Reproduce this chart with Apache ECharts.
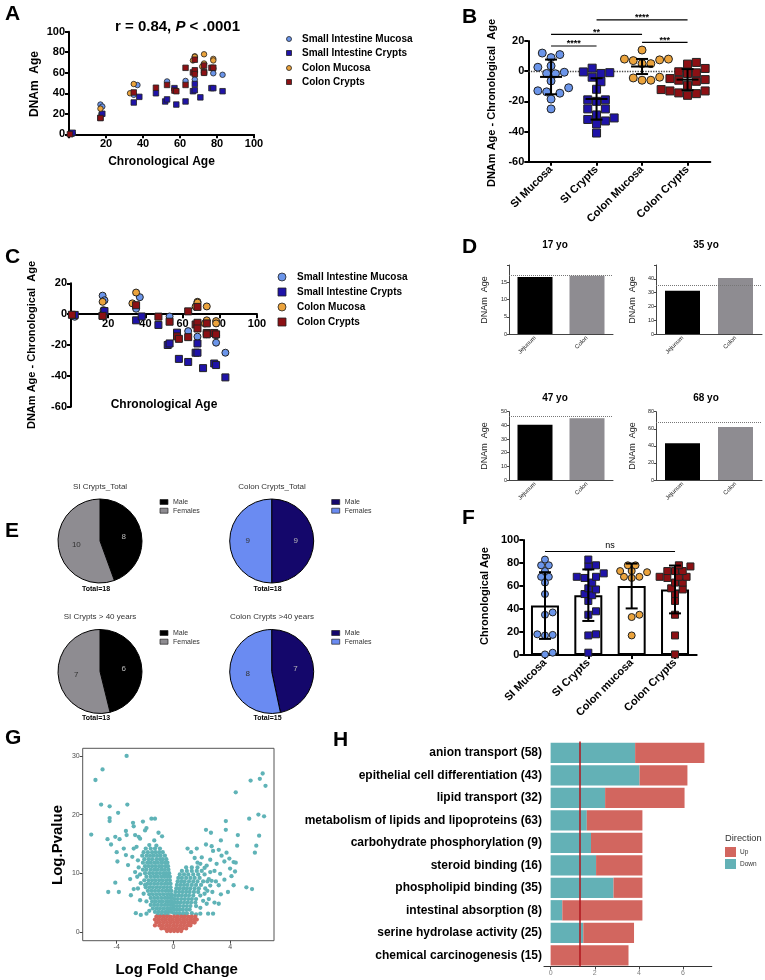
<!DOCTYPE html>
<html><head><meta charset="utf-8">
<script src="https://cdn.jsdelivr.net/npm/echarts@6/dist/echarts.min.js"></script>
<style>html,body{margin:0;padding:0;background:#fff}#c{width:765px;height:980px}</style>
</head><body><div id="c"></div>
<script>
// ---------------- DATA ----------------
const groupNames = ['Small Intestine Mucosa','Small Intestine Crypts','Colon Mucosa','Colon Crypts'];
const siMucosaAge   = [0.5, 2, 17, 17.5, 18, 35, 37, 53, 63, 68, 68, 73, 78, 78, 83];
const siMucosaDelta = [-0.7, -1.7, 12, 2.6, 9, 3.5, 11, -1.5, -11, -6.5, -14.6, -13, -13.7, -18.5, -25];
const siCryptsAge   = [2, 17, 18, 35, 38, 47, 52, 53, 57, 58, 63, 67, 68, 68, 71, 77, 78, 83];
const siCryptsDelta = [-0.5, -1, 2, -4, -1.5, -7, -20, -19, -12, -29, -31, -25, -25, -19, -35, -32, -33, -41];
const colonMucosaAge   = [17, 33, 35, 67, 68, 68, 73, 72, 73, 78, 78];
const colonMucosaDelta = [8, 7, 14, 5, 8, 7.5, 5, -6, -4, -4.5, -6];
const colonCryptsAge   = [0.5, 17, 35, 47, 53, 57, 58, 63, 63, 67, 68, 68, 68, 73, 73, 73, 77, 78];
const colonCryptsDelta = [-0.4, -1.1, 5.8, -1.6, -4.9, -14.4, -16, 1.8, -14.9, -6.7, -5.6, -9.3, 4.7, -6, -12.2, -13.1, -12.2, -13.1];

const bCategories = ['SI Mucosa','SI Crypts','Colon Mucosa','Colon Crypts'];
const bMeans = [-3.8, -18.4, 3.1, -5.6];
const bSd = [11.5, 13.7, 5.0, 7.0];
const bSigPairs = [[0,1,16.7],[0,2,24.4],[1,3,34],[2,3,19.1]];
const bSigLabels = ['****','**','****','***'];

const dTitles = ['17 yo','35 yo','47 yo','68 yo'];
const dCategories = ['Jejunum','Colon'];
const dJejunum = [16.5, 31.3, 40.5, 43];
const dColon = [16.9, 40.5, 45.2, 62];
const dAges = [17, 35, 47, 68];
const dMax = [20, 50, 50, 80];
const dInterval = [5, 10, 10, 20];

const eTitles = ['SI Crypts_Total','Colon Crypts_Total','SI Crypts > 40 years','Colon Crypts >40 years'];
const eLabels = ['Male','Females'];
const eMale = [8, 9, 6, 7];
const eFemale = [10, 9, 7, 8];

const fCategories = ['SI Mucosa','SI Crypts','Colon mucosa','Colon Crypts'];
const fMeans = [43, 52, 60, 57];
const fSd = [29, 22.4, 19.5, 20.8];
const fSigPair = [0, 3, 90];
const fSigLabel = 'ns';

const volcanoSigRows = [
 [14.2,[-1.95,-1.6,-1.3,-0.95]],
 [13.6,[-2.1,-1.8,-1.5,-1.25,-1.0,-0.75]],
 [13.0,[-2.2,-1.9,-1.65,-1.4,-1.15,-0.9,-0.6]],
 [12.4,[-2.05,-1.75,-1.5,-1.2,-0.95,-0.75,-0.5]],
 [11.8,[-2.15,-1.85,-1.6,-1.35,-1.1,-0.85,-0.6,-0.42]],
 [11.2,[-2.0,-1.75,-1.5,-1.25,-1.0,-0.8,-0.55,-0.38]],
 [10.6,[-2.15,-1.9,-1.6,-1.35,-1.1,-0.85,-0.6,-0.35]],
 [10.0,[-2.0,-1.7,-1.45,-1.2,-0.95,-0.7,-0.5,-0.3]],
 [9.4,[-1.9,-1.6,-1.35,-1.1,-0.85,-0.62,-0.4,-0.25]],
 [8.8,[-2.05,-1.75,-1.5,-1.25,-1.0,-0.75,-0.5,-0.25]],
 [8.2,[-1.85,-1.6,-1.35,-1.1,-0.85,-0.6,-0.4,-0.2]],
 [7.6,[-1.95,-1.7,-1.45,-1.2,-0.95,-0.7,-0.45,-0.2]],
 [7.0,[-1.8,-1.55,-1.3,-1.05,-0.8,-0.55,-0.35,-0.15]],
 [6.4,[-1.7,-1.45,-1.2,-0.95,-0.7,-0.45,-0.25,-0.12]],
 [5.8,[-1.6,-1.35,-1.1,-0.85,-0.6,-0.4,-0.2,-0.1]],
 [5.2,[-1.5,-1.25,-1.0,-0.75,-0.5,-0.3,-0.1]],
 [4.6,[-1.6,-1.35,-1.1,-0.85,-0.6,-0.4,-0.2,-0.07]],
 [4.0,[-1.45,-1.2,-0.95,-0.7,-0.45,-0.25,-0.05]],
 [3.4,[-1.3,-1.05,-0.8,-0.55,-0.35,-0.15]],
 [2.9,[-1.1,-0.85,-0.6,-0.4]],
 [11.0,[0.9,1.3,1.7]],
 [10.4,[0.6,0.95,1.3,1.65,2.0]],
 [9.8,[0.45,0.75,1.05,1.4,1.75,2.2]],
 [9.2,[0.35,0.6,0.9,1.2,1.5,1.85]],
 [8.6,[0.3,0.55,0.8,1.1,1.4,1.7,2.1,2.4]],
 [8.0,[0.25,0.5,0.75,1.0,1.3,1.6,1.95]],
 [7.4,[0.2,0.45,0.7,0.95,1.2,1.5,1.8,2.25]],
 [6.8,[0.15,0.4,0.65,0.9,1.15,1.45,1.75]],
 [6.2,[0.12,0.35,0.6,0.85,1.1,1.4,1.9]],
 [5.6,[0.1,0.3,0.55,0.8,1.05,1.3,1.6]],
 [5.0,[0.08,0.28,0.5,0.75,1.0,1.25,1.55]],
 [4.4,[0.06,0.25,0.45,0.7,0.95,1.2,1.6]],
 [3.8,[0.05,0.22,0.42,0.65,0.9,1.15]],
 [3.2,[0.05,0.25,0.45,0.7,0.95,1.3]],
 [2.9,[0.3,0.6,0.9]]
];
const volcanoSigOutliers = [
 [-3.3,30.0],[-5.0,27.7],[-5.5,25.9],[5.45,25.8],[6.1,26.1],[6.3,27.0],[6.5,24.9],
 [-5.1,21.7],[-4.5,21.4],[-3.25,21.7],[-3.9,20.3],[-4.5,19.4],[-4.5,18.9],[-5.8,16.6],[-4.65,15.8],[-4.4,14.9],
 [-4.1,16.2],[-3.8,15.8],[-4.0,13.6],[-3.95,12.0],[-3.35,17.2],[-3.3,16.5],[-3.5,14.2],[-3.35,13.1],[-3.2,11.4],
 [-4.1,8.4],[-4.6,6.8],[-3.85,6.8],[-2.85,18.6],[-2.8,18.0],[-2.15,18.8],[-2.7,16.5],[-2.45,16.2],[-2.35,15.9],
 [-1.9,17.7],[-1.55,19.3],[-1.3,19.3],[-2.0,17.3],[-1.35,15.6],[-1.05,16.9],[-0.8,16.3],[-2.8,14.2],[-2.6,14.5],
 [-2.7,10.2],[-2.8,7.3],[-2.65,3.2],[-3.0,6.25],[-2.5,7.4],[-2.35,5.4],[-2.0,8.0],[-2.5,12.2],[-2.9,12.8],
 [-3.05,9.0],[-2.55,9.4],[-2.3,2.9],[-1.9,3.1],
 [-2.45,11.0],[-2.35,9.8],[-2.3,8.3],[-2.1,6.5],[-1.9,5.2],[-1.7,3.6],[-1.7,14.8],[-1.2,14.7],
 [4.4,23.8],[3.7,18.9],[3.7,17.4],[4.55,16.5],[4.5,14.7],[5.35,19.3],[6.0,20.0],[6.4,19.7],[6.05,16.4],
 [5.85,14.7],[5.75,13.5],[3.35,15.6],[2.7,14.6],[2.3,17.4],[2.65,16.9],[2.3,14.9],[1.65,14.2],[1.0,14.2],
 [1.25,13.6],[2.8,13.8],[3.2,14.0],[3.4,13.0],[3.75,13.5],[3.95,12.5],[4.25,11.9],[4.4,11.8],[4.35,10.3],
 [4.25,7.95],[3.85,6.8],[5.15,7.6],[5.55,7.3],[3.3,9.9],[3.2,7.95],[3.35,6.4],[3.2,4.8],[2.8,3.1],[2.45,3.1],
 [1.9,3.1],[2.9,5.0],[2.35,4.8],[2.75,6.8],[3.05,11.6],[2.6,12.3],[2.0,12.7],[1.7,11.8],[2.9,10.4],[2.5,9.0],
 [3.6,12.0],[4.0,10.8],[2.2,10.9],[3.0,8.6],[2.6,7.9],[2.2,6.5],[2.5,5.6],[3.6,8.9],[4.1,9.5],[1.5,12.6],
 [2.6,10.2],[2.7,8.7],[2.4,7.0],[2.1,5.3],[1.9,4.1],[1.6,3.0],[2.35,11.3],[1.9,11.6]
];
const volcanoNsRows = [
 [2.6,[-1.2,-0.95,-0.7,-0.45,-0.2,0.05,0.3,0.55,0.8,1.05,1.3,1.55]],
 [2.1,[-1.3,-1.05,-0.8,-0.55,-0.3,-0.05,0.2,0.45,0.7,0.95,1.2,1.45,1.65]],
 [1.6,[-1.2,-0.95,-0.7,-0.45,-0.2,0.05,0.3,0.55,0.8,1.05,1.3,1.5]],
 [1.1,[-1.3,-1.0,-0.75,-0.5,-0.25,0.0,0.25,0.5,0.75,1.0,1.2]],
 [0.6,[-0.85,-0.6,-0.35,-0.1,0.15,0.4,0.65,0.9]],
 [0.15,[-0.45,-0.2,0.05,0.3,0.55]]
];

const hTerms = ['anion transport (58)','epithelial cell differentiation (43)','lipid transport (32)',
 'metabolism of lipids and lipoproteins (63)','carbohydrate phosphorylation (9)','steroid binding (16)',
 'phospholipid binding (35)','intestinal absorption (8)','serine hydrolase activity (25)','chemical carcinogenesis (15)'];
const hDown = [3.83, 4.03, 2.47, 1.64, 1.83, 2.06, 2.85, 0.53, 1.48, 0];
const hUp   = [3.14, 2.17, 3.60, 2.52, 2.33, 2.10, 1.31, 3.63, 2.30, 3.53];
const hThreshold = 1.3;
const hLegend = ['Up','Down'];

// ---------------- STYLE ----------------
const FF = "'Liberation Sans', Arial, Helvetica, sans-serif";
const groupColors = ['#6b95ea','#1f13a8','#eba33c','#8c1014'];
const groupSymbols = ['circle','rect','circle','rect'];
const ages = [siMucosaAge, siCryptsAge, colonMucosaAge, colonCryptsAge];
const deltas = [siMucosaDelta, siCryptsDelta, colonMucosaDelta, colonCryptsDelta];

const chart = echarts.init(document.getElementById('c'), null, {width:765, height:980, renderer:'canvas'});

const grids = [
 {left:69, top:31.7, width:185, height:102.6},
 {left:528.3, top:41, width:182, height:120.7},
 {left:71, top:283.3, width:186, height:123.4},
 {left:509, top:265, width:104, height:69},
 {left:656, top:265, width:106, height:69},
 {left:509, top:411.7, width:104, height:68.3},
 {left:656, top:411.7, width:106, height:68.3},
 {left:523.3, top:540, width:173.4, height:115},
 {left:82.7, top:748.3, width:191.3, height:192.4, show:true, borderColor:'#555', borderWidth:1},
 {left:544, top:741.5, width:167.7, height:225}
];

function prismVal(gridIndex, min, max, interval, hideZero, offset) {
  return {type:'value', gridIndex, min, max, interval, offset: offset || 0,
    axisLine:{show:true, onZero:false, lineStyle:{color:'#000', width:2}},
    axisTick:{show:true, length:4, lineStyle:{color:'#000', width:2}},
    axisLabel:{color:'#000', fontFamily:FF, fontWeight:'bold', fontSize:11, margin:4,
      formatter: v => (hideZero && v === 0) ? '' : String(v)},
    splitLine:{show:false}};
}
function prismCat(gridIndex, data) {
  return {type:'category', gridIndex, data,
    axisLine:{show:true, onZero:false, lineStyle:{color:'#000', width:2}},
    axisTick:{show:true, alignWithLabel:true, length:4, lineStyle:{color:'#000', width:2}},
    axisLabel:{rotate:45, interval:0, color:'#000', fontFamily:FF, fontWeight:'bold', fontSize:11, margin:6},
    splitLine:{show:false}};
}
function hiddenVal(gridIndex) { return {type:'value', gridIndex, min:0, max:4, show:false}; }
function dCat(gridIndex) {
  return {type:'category', gridIndex, data:dCategories,
    axisLine:{onZero:false, lineStyle:{color:'#444', width:1}},
    axisTick:{alignWithLabel:true, length:2, lineStyle:{color:'#444'}},
    axisLabel:{rotate:45, interval:0, fontSize:6, color:'#222', fontFamily:FF, margin:3}};
}
function dVal(gridIndex, i) {
  return {type:'value', gridIndex, min:0, max:dMax[i], interval:dInterval[i],
    axisLine:{show:true, onZero:false, lineStyle:{color:'#444', width:1}},
    axisTick:{show:true, length:2, lineStyle:{color:'#444'}},
    axisLabel:{fontSize:5.5, color:'#222', fontFamily:FF, margin:2,
      formatter: v => (i < 2 && v === dMax[i]) ? '' : String(v)},
    splitLine:{show:false}};
}

const xAxes = [
  prismVal(0, 0, 100, 20, true),          //0 A
  prismCat(1, bCategories),               //1 B cat
  hiddenVal(1),                           //2 B val
  prismVal(2, 0, 100, 20, true, -123.4*60/80), //3 C (axis drawn at y = 0)
  dCat(3), dCat(4), dCat(5), dCat(6),     //4-7 D
  prismCat(7, fCategories),               //8 F cat
  hiddenVal(7),                           //9 F val
  {type:'value', gridIndex:8, min:-6.4, max:7.1, axisLine:{show:false, onZero:false}, splitLine:{show:false},
   axisTick:{show:true, customValues:[-4,0,4], length:3, lineStyle:{color:'#444'}},
   axisLabel:{customValues:[-4,0,4], fontSize:7, color:'#4d4d4d', fontFamily:FF, margin:3}}, //10 G
  {type:'value', gridIndex:9, min:-0.3, max:7.3, splitLine:{show:false},
   axisLine:{show:true, onZero:false, lineStyle:{color:'#333', width:1.2}},
   axisTick:{show:true, customValues:[0,2,4,6], length:3, lineStyle:{color:'#444'}},
   axisLabel:{customValues:[0,2,4,6], fontSize:7, color:'#7f7f7f', fontFamily:FF, margin:3}} //11 H
];
const yAxes = [
  prismVal(0, 0, 100, 20, false),
  prismVal(1, -60, 20, 20, false),
  prismVal(2, -60, 20, 20, false),
  dVal(3,0), dVal(4,1), dVal(5,2), dVal(6,3),
  prismVal(7, 0, 100, 20, false),
  {type:'value', gridIndex:8, min:-1.5, max:31.3, axisLine:{show:false, onZero:false}, splitLine:{show:false},
   axisTick:{show:true, customValues:[0,10,20,30], length:3, lineStyle:{color:'#444'}},
   axisLabel:{customValues:[0,10,20,30], fontSize:7, color:'#4d4d4d', fontFamily:FF, margin:3}},
  {type:'category', gridIndex:9, data:hTerms, inverse:true, axisLine:{show:false, onZero:false},
   axisTick:{show:false}, axisLabel:{fontWeight:'bold', fontSize:12, color:'#000', fontFamily:FF, margin:2}}
];

// beeswarm offsets (px) for dot plots
function swarm(vals, pxPerUnit, size) {
  const order = vals.map((v,i)=>i).sort((a,b)=>vals[a]-vals[b]);
  const placed = []; const off = vals.map(()=>0);
  order.forEach(i => {
    const y = vals[i]*pxPerUnit;
    for (let k=0; k<40; k++) {
      const c = (k%2 ? 1 : -1) * Math.ceil(k/2) * size * 0.55;
      if (placed.every(p => Math.hypot(p.x-c, p.y-y) >= size*0.98)) { off[i]=c; placed.push({x:c,y}); break; }
    }
  });
  return off;
}

const series = [];
// Panel A
groupNames.forEach((g, gi) => {
  series.push({type:'scatter', name:g, xAxisIndex:0, yAxisIndex:0, symbol:groupSymbols[gi], symbolSize:5.5,
    itemStyle:{color:groupColors[gi], borderColor:'#222', borderWidth:0.8, opacity:1},
    data: ages[gi].map((a,j)=>[a, a + deltas[gi][j]]), z:3});
});
// Panel B
const bBand = 182/4, bPx = 120.7/80;
groupNames.forEach((g, gi) => {
  const off = swarm(deltas[gi], bPx, 8);
  const s = {type:'scatter', name:g, xAxisIndex:2, yAxisIndex:1, symbol:groupSymbols[gi], symbolSize:8,
    itemStyle:{color:groupColors[gi], borderColor:'#222', borderWidth:1, opacity:1},
    data: deltas[gi].map((d,j)=>[gi + 0.5 + off[j]/bBand, d]), z:3};
  if (gi === 0) s.markLine = {silent:true, symbol:'none', label:{show:false}, animation:false,
    lineStyle:{type:'dotted', color:'#444', width:1.3}, data:[{yAxis:0}], z:1};
  series.push(s);
});
series.push({type:'custom', xAxisIndex:2, yAxisIndex:1, z:6, clip:false,
  data: bMeans.map((m,i)=>[i+0.5, m, bSd[i]]),
  renderItem:(p, api) => {
    const x=api.value(0), m=api.value(1), s=api.value(2);
    const pm=api.coord([x,m]), pt=api.coord([x,m+s]), pb=api.coord([x,m-s]);
    const st={stroke:'#000', lineWidth:2};
    return {type:'group', children:[
      {type:'line', shape:{x1:pm[0]-11,y1:pm[1],x2:pm[0]+11,y2:pm[1]}, style:st},
      {type:'line', shape:{x1:pt[0],y1:pt[1],x2:pb[0],y2:pb[1]}, style:st},
      {type:'line', shape:{x1:pt[0]-6,y1:pt[1],x2:pt[0]+6,y2:pt[1]}, style:st},
      {type:'line', shape:{x1:pb[0]-6,y1:pb[1],x2:pb[0]+6,y2:pb[1]}, style:st}]};
  }});
series.push({type:'custom', xAxisIndex:2, yAxisIndex:1, z:6, clip:false, data:bSigPairs,
  renderItem:(p, api) => {
    const a=api.coord([api.value(0)+0.5, api.value(2)]), b=api.coord([api.value(1)+0.5, api.value(2)]);
    return {type:'group', children:[
      {type:'line', shape:{x1:a[0],y1:a[1],x2:b[0],y2:b[1]}, style:{stroke:'#000', lineWidth:1.2}},
      {type:'text', x:(a[0]+b[0])/2, y:a[1]-2, style:{text:bSigLabels[p.dataIndex], font:'bold 9px '+FF,
        fill:'#000', textAlign:'center', textVerticalAlign:'middle', align:'center', verticalAlign:'middle'}}]};
  }});
// Panel C
groupNames.forEach((g, gi) => {
  series.push({type:'scatter', name:g, xAxisIndex:3, yAxisIndex:2, symbol:groupSymbols[gi], symbolSize:7,
    itemStyle:{color:groupColors[gi], borderColor:'#222', borderWidth:1, opacity:1},
    data: ages[gi].map((a,j)=>[a, deltas[gi][j]]), z:3});
});
// Panel D
for (let i=0;i<4;i++) {
  series.push({type:'bar', xAxisIndex:4+i, yAxisIndex:3+i, barWidth:35,
    data:[{value:dJejunum[i], itemStyle:{color:'#000'}}, {value:dColon[i], itemStyle:{color:'#8e8c91'}}],
    markLine:{silent:true, symbol:'none', label:{show:false}, animation:false,
      lineStyle:{type:'dotted', color:'#777', width:1}, data:[{yAxis:dAges[i]}]}});
}
// Panel E pies
const pieCenters = [[100,541],[271.7,541],[100,671.5],[271.7,671.5]];
const pieColors = [['#000000','#8e8c91'],['#14076b','#6a8bf2'],['#000000','#8e8c91'],['#14076b','#6a8bf2']];
for (let i=0;i<4;i++) {
  series.push({type:'pie', center:pieCenters[i], radius:42, startAngle:90, clockwise:true, silent:true,
    label:{show:true, position:'inside', formatter:'{c}', fontSize:8, fontFamily:FF},
    labelLine:{show:false},
    itemStyle:{borderColor:'#000', borderWidth:1},
    data:[
      {name:eLabels[0], value:eMale[i], itemStyle:{color:pieColors[i][0]}, label:{color:'#bbb'}},
      {name:eLabels[1], value:eFemale[i], itemStyle:{color:pieColors[i][1]}, label:{color:'#333'}}]});
}
// Panel F
series.push({type:'bar', xAxisIndex:8, yAxisIndex:7, barWidth:28, data:fMeans,
  itemStyle:{color:'#fff', borderColor:'#000', borderWidth:2}, z:2});
const fBand = 173.4/4, fPx = 115/100;
groupNames.forEach((g, gi) => {
  const off = swarm(ages[gi], fPx, 7);
  series.push({type:'scatter', name:g, xAxisIndex:9, yAxisIndex:7, symbol:groupSymbols[gi], symbolSize:7,
    itemStyle:{color:groupColors[gi], borderColor:'#222', borderWidth:1, opacity:1},
    data: ages[gi].map((a,j)=>[gi + 0.5 + off[j]/fBand, a]), z:3});
});
series.push({type:'custom', xAxisIndex:9, yAxisIndex:7, z:6, clip:false,
  data: fMeans.map((m,i)=>[i+0.5, m, fSd[i]]),
  renderItem:(p, api) => {
    const x=api.value(0), m=api.value(1), s=api.value(2);
    const pt=api.coord([x,m+s]), pb=api.coord([x,m-s]);
    const st={stroke:'#000', lineWidth:2};
    return {type:'group', children:[
      {type:'line', shape:{x1:pt[0],y1:pt[1],x2:pb[0],y2:pb[1]}, style:st},
      {type:'line', shape:{x1:pt[0]-6,y1:pt[1],x2:pt[0]+6,y2:pt[1]}, style:st},
      {type:'line', shape:{x1:pb[0]-6,y1:pb[1],x2:pb[0]+6,y2:pb[1]}, style:st}]};
  }});
series.push({type:'custom', xAxisIndex:9, yAxisIndex:7, z:6, clip:false, data:[fSigPair],
  renderItem:(p, api) => {
    const a=api.coord([api.value(0)+0.5, api.value(2)]), b=api.coord([api.value(1)+0.5, api.value(2)]);
    return {type:'group', children:[
      {type:'line', shape:{x1:a[0],y1:a[1],x2:b[0],y2:b[1]}, style:{stroke:'#000', lineWidth:1.2}},
      {type:'text', x:(a[0]+b[0])/2, y:a[1]-1, style:{text:fSigLabel, font:'9px '+FF, fill:'#000',
        textAlign:'center', textVerticalAlign:'bottom', align:'center', verticalAlign:'bottom'}}]};
  }});
// Panel G volcano
const volcanoSig = volcanoSigRows.flatMap(([y, xs]) => xs.map(x => [x, y])).concat(volcanoSigOutliers);
const volcanoNs = volcanoNsRows.flatMap(([y, xs]) => xs.map(x => [x, y]));
series.push({type:'scatter', xAxisIndex:10, yAxisIndex:8, symbolSize:4.3, data:volcanoSig,
  itemStyle:{color:'#5fb3b7', opacity:1}, z:3});
series.push({type:'scatter', xAxisIndex:10, yAxisIndex:8, symbolSize:4.3, data:volcanoNs,
  itemStyle:{color:'#d4665c', opacity:1}, z:4});
// Panel H
series.push({type:'bar', name:'Down', xAxisIndex:11, yAxisIndex:9, stack:'h', data:hDown,
  barCategoryGap:'10%', itemStyle:{color:'#63b1b6'},
  markLine:{silent:true, symbol:'none', label:{show:false}, animation:false,
    lineStyle:{type:'solid', color:'#b0161c', width:1.5}, data:[{xAxis:hThreshold}]}});
series.push({type:'bar', name:'Up', xAxisIndex:11, yAxisIndex:9, stack:'h', data:hUp,
  barCategoryGap:'10%', itemStyle:{color:'#d2665f'}});

// ---------------- GRAPHIC TEXT ----------------
const g = [];
function T(x, y, text, font, o) {
  o = o || {};
  g.push({type:'text', x, y, rotation:o.rot||0, z:100, silent:true,
    style:{text, font, fill:o.fill||'#000', textAlign:o.align||'left', textVerticalAlign:o.va||'middle',
      align:o.align||'left', verticalAlign:o.va||'middle'}});
}
const L = 'bold 21px '+FF;
T(5,14,'A',L); T(462,17,'B',L); T(5,257,'C',L); T(462,247,'D',L);
T(5,531,'E',L); T(462,518,'F',L); T(5,738,'G',L); T(333,740,'H',L);
// A
g.push({type:'text', x:177.5, y:27, z:100, silent:true, style:{
  text:'{b|r = 0.84, }{i|P}{b| < .0001}', textAlign:'center', textVerticalAlign:'middle', align:'center', verticalAlign:'middle',
  rich:{b:{font:'bold 15px '+FF, fill:'#000'}, i:{font:'italic bold 15px '+FF, fill:'#000'}}}});
T(35,84,'DNAm  Age','bold 12px '+FF,{rot:Math.PI/2, align:'center'});
T(161.5,162,'Chronological Age','bold 12px '+FF,{align:'center'});
function legend(x, x2, ys, size, font) {
  groupNames.forEach((n, gi) => {
    const y = ys[gi];
    if (groupSymbols[gi] === 'circle') g.push({type:'circle', z:100, silent:true, shape:{cx:x, cy:y, r:size/2},
      style:{fill:groupColors[gi], stroke:'#222', lineWidth:0.8}});
    else g.push({type:'rect', z:100, silent:true, shape:{x:x-size/2, y:y-size/2, width:size, height:size},
      style:{fill:groupColors[gi], stroke:'#222', lineWidth:0.8}});
    T(x2, y, n, font);
  });
}
legend(289, 302, [39,53,68,82], 5, 'bold 10px '+FF);
// B
T(492,103,'DNAm Age - Chronological  Age','bold 11px '+FF,{rot:Math.PI/2, align:'center'});
// C
T(32,345,'DNAm Age - Chronological  Age','bold 11px '+FF,{rot:Math.PI/2, align:'center'});
T(164,405,'Chronological Age','bold 12px '+FF,{align:'center'});
legend(282, 297, [277,292,307,322], 8, 'bold 10px '+FF);
// D
const dTitlePos = [[555,245],[706,245],[555,398],[706,398]];
const dAxisTitlePos = [[485,300],[633,300],[485,446],[633,446]];
for (let i=0;i<4;i++) {
  T(dTitlePos[i][0], dTitlePos[i][1], dTitles[i], 'bold 10px '+FF, {align:'center'});
  T(dAxisTitlePos[i][0], dAxisTitlePos[i][1], 'DNAm  Age', '9px '+FF, {rot:Math.PI/2, align:'center', fill:'#222'});
}
// E
const eTitlePos = [[100,487],[272,487],[100,617],[272,617]];
const eTotalPos = [[96,589],[267.5,589],[96,718],[267.5,718]];
const eLegPos = [[160,502],[331.7,502],[160,633],[331.7,633]];
for (let i=0;i<4;i++) {
  T(eTitlePos[i][0], eTitlePos[i][1], eTitles[i], '8px '+FF, {align:'center', fill:'#333'});
  T(eTotalPos[i][0], eTotalPos[i][1], 'Total=' + (eMale[i]+eFemale[i]), 'bold 7px '+FF, {align:'center'});
  [0,1].forEach(k => {
    const ly = eLegPos[i][1] + k*8.7;
    g.push({type:'rect', z:100, silent:true, shape:{x:eLegPos[i][0], y:ly-2.5, width:8, height:5},
      style:{fill:pieColors[i][k], stroke:'#222', lineWidth:0.7}});
    T(eLegPos[i][0]+13, ly, eLabels[k], '7px '+FF, {fill:'#333'});
  });
}
// F
T(485,596,'Chronological Age','bold 11px '+FF,{rot:Math.PI/2, align:'center'});
// G
T(58,845,'Log.Pvalue','bold 15px '+FF,{rot:Math.PI/2, align:'center'});
T(176.7,970,'Log Fold Change','bold 15px '+FF,{align:'center'});
// H legend
T(725,838,'Direction','9.3px '+FF,{fill:'#333'});
const hLegColors = ['#d2665f','#63b1b6'];
[0,1].forEach(k => {
  const ly = 852 + k*12;
  g.push({type:'rect', z:100, silent:true, shape:{x:725, y:ly-5, width:11, height:10}, style:{fill:hLegColors[k]}});
  T(740, ly, hLegend[k], '6.5px '+FF, {fill:'#333'});
});

chart.setOption({animation:false, backgroundColor:'#fff', grid:grids, xAxis:xAxes, yAxis:yAxes, series, graphic:g});
</script></body></html>
